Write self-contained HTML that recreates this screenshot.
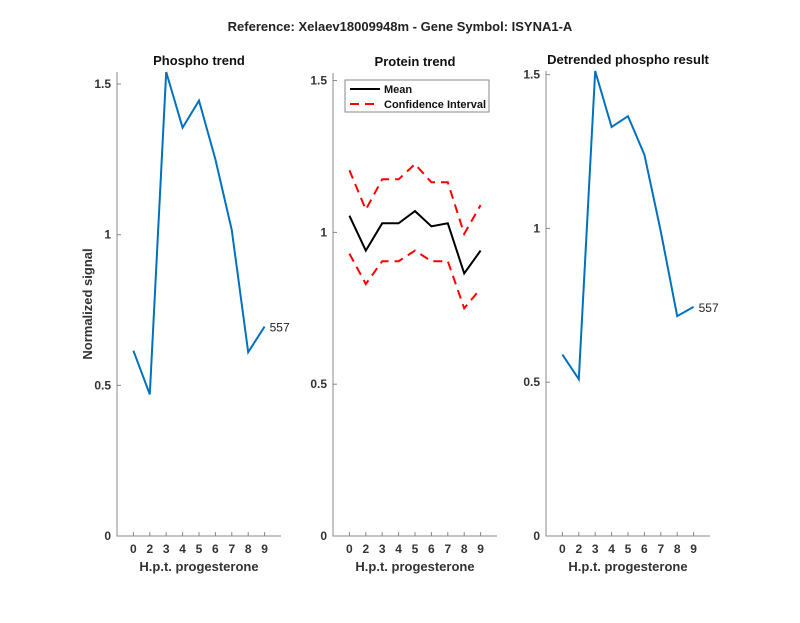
<!DOCTYPE html>
<html><head><meta charset="utf-8"><style>
body{margin:0;background:#fff;}
svg{font-family:"Liberation Sans",Arial,sans-serif;}
</style></head><body>
<svg id="chart" width="800" height="618" xmlns="http://www.w3.org/2000/svg">
<rect width="800" height="618" fill="#fff"/>
<text x="400" y="31" font-size="13" font-weight="bold" text-anchor="middle" fill="#222">Reference:  Xelaev18009948m - Gene Symbol:  ISYNA1-A</text>
<g id="plots"></g>
</svg>
<script>
const categories = ["0","2","3","4","5","6","7","8","9"];
const phospho = [0.615, 0.47, 1.54, 1.355, 1.445, 1.25, 1.015, 0.61, 0.695];
const proteinMean = [1.055, 0.94, 1.03, 1.03, 1.07, 1.02, 1.03, 0.865, 0.94];
const proteinUpper = [1.205, 1.075, 1.175, 1.175, 1.225, 1.165, 1.165, 0.995, 1.09];
const proteinLower = [0.93, 0.83, 0.905, 0.905, 0.94, 0.905, 0.905, 0.75, 0.815];
const detrended = [0.59, 0.51, 1.512, 1.33, 1.365, 1.24, 0.99, 0.715, 0.745];
const yTicks = [0, 0.5, 1, 1.5];
const yTickLabels = ["0", "0.5", "1", "1.5"];
const seriesLabel = "557";

const NS = "http://www.w3.org/2000/svg";
const root = document.getElementById('plots');
function el(tag, attrs, parent, text){
  const e = document.createElementNS(NS, tag);
  for (const k in attrs) e.setAttribute(k, attrs[k]);
  if (text !== undefined) e.textContent = text;
  (parent || root).appendChild(e);
  return e;
}
function makeAxes(name, left, top, bottom, ymax, title){
  const width = 164;
  const g = el('g', {});
  
  
  const x = i => left + (i + 1) * width / (categories.length + 1);
  const y = v => bottom - v * (bottom - top) / ymax;
  const ax = el('path', {d:`M${left} ${top}V${bottom}H${left+width}`, stroke:'#888', fill:'none', 'stroke-width':1}, g);
  
  
  yTicks.forEach((t, k) => {
    if (t > ymax) return;
    el('line', {x1:left, x2:left+4, y1:y(t), y2:y(t), stroke:'#888'}, g);
    const lt = el('text', {x:left-6, y:y(t)+4, 'font-size':12, 'font-weight':'bold', 'text-anchor':'end', fill:'#333'}, g, yTickLabels[k]);
    
    
  });
  categories.forEach((c, i) => {
    el('line', {x1:x(i), x2:x(i), y1:bottom, y2:bottom-4, stroke:'#888'}, g);
    const lt = el('text', {x:x(i), y:bottom+17, 'font-size':12, 'font-weight':'bold', 'text-anchor':'middle', fill:'#333'}, g, c);
    
    
  });
  const xl = el('text', {x:left+width/2, y:bottom+35, 'font-size':13, 'font-weight':'bold', 'text-anchor':'middle', fill:'#333'}, g, 'H.p.t. progesterone');
  
  
  const tt = el('text', {x:left+width/2, y:top-7, 'font-size':13, 'font-weight':'bold', 'text-anchor':'middle', fill:'#111'}, g, title);
  
  
  return {g, x, y};
}
function line(ax, vals, color, dash, name, w){
  const d = vals.map((v, i) => (i ? 'L' : 'M') + ax.x(i).toFixed(1) + ' ' + ax.y(v).toFixed(1)).join('');
  const p = el('path', {d, stroke:color, fill:'none', 'stroke-width':w||2, 'stroke-dasharray':dash||'none'}, ax.g);
  
  
}
// Panel 1
const a1 = makeAxes('phospho-trend-panel', 117, 72, 536, 1.54, 'Phospho trend');
line(a1, phospho, '#0072BD', null, 'phospho-line');
const l1 = el('text', {x:a1.x(8)+5, y:a1.y(phospho[8])+5, 'font-size':12, fill:'#222'}, a1.g, seriesLabel);


const yl = el('text', {x:0, y:0, 'font-size':13, 'font-weight':'bold', 'text-anchor':'middle', fill:'#333', transform:'translate(92,304) rotate(-90)'}, a1.g, 'Normalized signal');


// Panel 2
const a2 = makeAxes('protein-trend-panel', 333, 73, 536, 1.525, 'Protein trend');
line(a2, proteinUpper, '#ff0000', '9,6', 'ci-upper-line');
line(a2, proteinLower, '#ff0000', '9,6', 'ci-lower-line');
line(a2, proteinMean, '#000', null, 'mean-line');
const lg = el('g', {}, a2.g);


el('rect', {x:345, y:80, width:144, height:32, fill:'#fff', stroke:'#888'}, lg);
el('line', {x1:350, x2:380, y1:89, y2:89, stroke:'#000', 'stroke-width':2}, lg);
const le1 = el('text', {x:384, y:93, 'font-size':11, 'font-weight':'bold', fill:'#111'}, lg, 'Mean');


el('line', {x1:350, x2:380, y1:104, y2:104, stroke:'#f00', 'stroke-width':2, 'stroke-dasharray':'9,6'}, lg);
const le2 = el('text', {x:384, y:108, 'font-size':11, 'font-weight':'bold', fill:'#111'}, lg, 'Confidence Interval');


// Panel 3
const a3 = makeAxes('detrended-panel', 546, 71, 536, 1.512, 'Detrended phospho result');
line(a3, detrended, '#0072BD', null, 'detrended-line');
const l3 = el('text', {x:a3.x(8)+5, y:a3.y(detrended[8])+5, 'font-size':12, fill:'#222'}, a3.g, seriesLabel);


</script>
</body></html>
